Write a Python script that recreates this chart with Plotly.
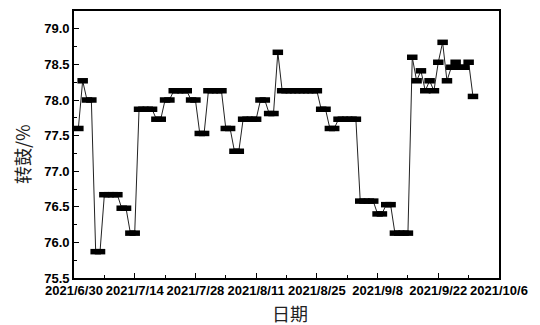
import pandas as pd
import plotly.graph_objects as go

start_date = "2021-07-01"
drum_values = [
    77.60, 78.27, 78.00, 78.00, 75.87, 75.87, 76.67, 76.67, 76.67, 76.67,
    76.48, 76.48, 76.13, 76.13, 77.87, 77.87, 77.87, 77.87, 77.73, 77.73,
    78.00, 78.00, 78.13, 78.13, 78.13, 78.13, 78.00, 78.00, 77.53, 77.53,
    78.13, 78.13, 78.13, 78.13, 77.60, 77.60, 77.28, 77.28, 77.73, 77.73,
    77.73, 77.73, 78.00, 78.00, 77.81, 77.81, 78.67, 78.13, 78.13, 78.13,
    78.13, 78.13, 78.13, 78.13, 78.13, 78.13, 77.87, 77.87, 77.60, 77.60,
    77.73, 77.73, 77.73, 77.73, 77.73, 76.58, 76.58, 76.58, 76.58, 76.40,
    76.40, 76.53, 76.53, 76.13, 76.13, 76.13, 76.13, 78.60, 78.27, 78.41,
    78.13, 78.27, 78.13, 78.53, 78.81, 78.27, 78.46, 78.53, 78.46, 78.46,
    78.53, 78.05,
]
dates = pd.date_range(start_date, periods=len(drum_values), freq="D")

x_tick_vals = ["2021-06-30", "2021-07-14", "2021-07-28", "2021-08-11",
               "2021-08-25", "2021-09-08", "2021-09-22", "2021-10-06"]
x_tick_text = ["2021/6/30", "2021/7/14", "2021/7/28", "2021/8/11",
               "2021/8/25", "2021/9/8", "2021/9/22", "2021/10/6"]
x_minor_vals = ["2021-07-07", "2021-07-21", "2021-08-04", "2021-08-18",
                "2021-09-01", "2021-09-15", "2021-09-29"]
y_tick_vals = [75.5, 76.0, 76.5, 77.0, 77.5, 78.0, 78.5, 79.0]
y_minor_vals = [75.75, 76.25, 76.75, 77.25, 77.75, 78.25, 78.75]

fig = go.Figure()
fig.add_trace(go.Scatter(
    x=dates, y=drum_values, mode="lines+markers",
    line=dict(color="#222222", width=1),
    marker=dict(symbol="line-ew", size=7.5, color="black",
                line=dict(color="black", width=5.5)),
    showlegend=False,
))

tickfont = dict(family="Liberation Sans", size=13, weight="bold", color="black")

fig.update_xaxes(
    type="date", range=["2021-06-30", "2021-10-06"],
    tickvals=x_tick_vals, ticktext=x_tick_text,
    ticks="inside", ticklen=5, tickwidth=1.2, tickcolor="black",
    minor=dict(tickvals=x_minor_vals, ticks="inside", ticklen=3, tickwidth=1.2, tickcolor="black"),
    showline=True, linecolor="black", linewidth=1.6, mirror=True,
    showgrid=False, zeroline=False, tickfont=tickfont,
)
fig.update_yaxes(
    range=[75.5, 79.25],
    tickvals=y_tick_vals, tickformat=".1f",
    ticks="inside", ticklen=5, tickwidth=1.2, tickcolor="black",
    minor=dict(tickvals=y_minor_vals, ticks="inside", ticklen=3, tickwidth=1.2, tickcolor="black"),
    showline=True, linecolor="black", linewidth=1.6, mirror=True,
    showgrid=False, zeroline=False, tickfont=tickfont,
)

fig.update_layout(
    width=532, height=317,
    margin=dict(l=66, r=41, t=1, b=47),
    paper_bgcolor="white", plot_bgcolor="white",
    annotations=[
        dict(text="转鼓/%", xref="paper", yref="paper", x=-0.157, y=0.465,
             showarrow=False, textangle=-90,
             font=dict(family="Noto Sans CJK SC", size=18, color="#222222")),
        dict(text="日期", xref="paper", yref="paper", x=0.508, y=-0.13,
             yanchor="middle", showarrow=False,
             font=dict(family="Noto Sans CJK SC", size=18, color="#222222")),
    ],
)

fig.write_html("out.html")
